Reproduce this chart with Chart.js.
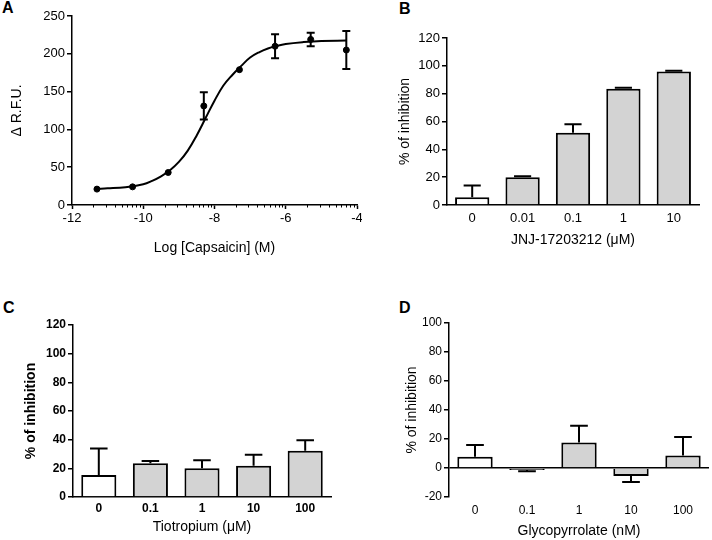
<!DOCTYPE html>
<html><head><meta charset="utf-8">
<script src="https://cdn.jsdelivr.net/npm/chart.js@4.4.0/dist/chart.umd.min.js"></script>
<style>
body{margin:0;background:#fff;width:712px;height:540px;position:relative;overflow:hidden;font-family:"Liberation Sans",Arial,sans-serif}
canvas{position:absolute}
.lbl{position:absolute;font:bold 16px "Liberation Sans",Arial,sans-serif;line-height:16px;color:#000}
</style></head><body>
<div class="lbl" style="left:2px;top:0px">A</div>
<div class="lbl" style="left:399px;top:1px">B</div>
<div class="lbl" style="left:3px;top:300px">C</div>
<div class="lbl" style="left:399px;top:300px">D</div>
<canvas id="cA" width="362" height="262" style="left:0;top:0"></canvas>
<canvas id="cB" width="352" height="252" style="left:360px;top:0"></canvas>
<canvas id="cC" width="345" height="275" style="left:0;top:265px"></canvas>
<canvas id="cD" width="352" height="275" style="left:360px;top:265px"></canvas>
<script>
// ---- Panel A data ----
const capsaicinLogM = [-11.3, -10.3, -9.3, -8.3, -7.3, -6.3, -5.3, -4.3];
const rfuMean = [21, 24, 43, 131, 179, 210, 219, 205];
const rfuSem = [0, 0, 0, 18, 0, 16, 9, 25];
const fitLogM = [-11.3, -11.0, -10.5, -10.0, -9.75, -9.5, -9.25, -9.0, -8.75, -8.5, -8.25, -8.0, -7.75, -7.5, -7.25, -7.0, -6.75, -6.5, -6.25, -6.0, -5.5, -5.0, -4.3];
const fitRfu  = [21.5, 22, 23.5, 27.5, 32, 38, 46, 57, 72, 92, 115, 138, 158, 172, 184, 195, 202, 207, 210.5, 213, 215.5, 217, 217.5];
const xTicksA = [-12, -10, -8, -6, -4];

// ---- Panel B data ----
const jnjDoses = ['0', '0.01', '0.1', '1', '10'];
const jnjInhibition = [5.5, 20, 52, 83.5, 96];
const jnjSem = [8.5, 0.6, 6, 0.8, 0.4];

// ---- Panel C data ----
const tioDoses = ['0', '0.1', '1', '10', '100'];
const tioInhibition = [15.4, 23.6, 20, 21.8, 32.2];
const tioSem = [18.5, 1.6, 5.6, 7.6, 7.4];

// ---- Panel D data ----
const glyDoses = ['0', '0.1', '1', '10', '100'];
const glyInhibition = [7.7, -1.3, 17.6, -5.5, 8.6];
const glySem = [8.1, 0.9, 11.5, 4.1, 12.7];

const FONT = '"Liberation Sans", Arial, sans-serif';
Chart.defaults.font.family = FONT;
Chart.defaults.color = '#000';
Chart.defaults.animation = false;
Chart.defaults.plugins.legend.display = false;
Chart.defaults.plugins.tooltip.enabled = false;

function fixAxis(size, isX) {
  return function (s) {
    if (isX) s.height = size; else s.width = size;
    s.paddingLeft = 0; s.paddingRight = 0; s.paddingTop = 0; s.paddingBottom = 0;
  };
}

const errorBars = {
  id: 'errorBars',
  afterDatasetsDraw(chart) {
    const ctx = chart.ctx;
    const ys = chart.scales.y;
    chart.data.datasets.forEach((ds, di) => {
      if (!ds.errors) return;
      const meta = chart.getDatasetMeta(di);
      meta.data.forEach((el, i) => {
        const err = ds.errors[i];
        if (!err) return;
        const raw = ds.data[i];
        const val = typeof raw === 'object' ? raw.y : raw;
        const x = el.x;
        const capW = ds.capWidth || (el.width / 2);
        ctx.save();
        ctx.strokeStyle = '#000';
        ctx.lineWidth = 2;
        const dirs = ds.bothWays ? [1, -1] : [val >= 0 ? 1 : -1];
        dirs.forEach(d => {
          const y0 = ys.getPixelForValue(val);
          const y1 = ys.getPixelForValue(val + d * err);
          ctx.beginPath();
          ctx.moveTo(x, y0); ctx.lineTo(x, y1);
          ctx.moveTo(x - capW / 2, y1); ctx.lineTo(x + capW / 2, y1);
          ctx.stroke();
        });
        ctx.restore();
      });
    });
  }
};

const minorTicks = {
  id: 'minorTicks',
  afterDraw(chart) {
    const xs = chart.scales.x;
    const y0 = chart.chartArea.bottom;
    const ctx = chart.ctx;
    ctx.save();
    ctx.strokeStyle = '#000';
    ctx.lineWidth = 1;
    for (let k = 0; k < xTicksA.length - 1; k++) {
      const s = xTicksA[k], e = xTicksA[k + 1];
      for (let m = 2; m <= 9; m++) {
        const px = Math.round(xs.getPixelForValue(s + (e - s) * Math.log10(m))) + 0.5;
        ctx.beginPath(); ctx.moveTo(px, y0); ctx.lineTo(px, y0 + 2.5); ctx.stroke();
      }
    }
    ctx.restore();
  }
};

function yAxis(o) {
  return {
    min: o.min, max: o.max,
    ticks: { stepSize: o.step, padding: 2, font: o.tickFont, color: '#000' },
    grid: {
      drawOnChartArea: !!o.zeroLine,
      color: o.zeroLine ? (c => (c.tick && c.tick.value === 0) ? '#000' : 'rgba(0,0,0,0)') : '#000',
      lineWidth: 1.5, tickColor: '#000', tickLength: 5, tickWidth: 1.5
    },
    border: { display: true, color: '#000', width: 1.5 },
    title: { display: true, text: o.title, font: o.titleFont, color: '#000', padding: { top: o.titlePad, bottom: 0 } },
    afterFit: fixAxis(o.width, false)
  };
}

function catAxis(o) {
  return {
    type: 'category', offset: true,
    grid: { display: false, drawTicks: false },
    border: { display: o.border, color: '#000', width: 1.5 },
    ticks: { padding: o.tickPad, font: o.tickFont, color: '#000', maxRotation: 0 },
    title: { display: true, text: o.title, font: o.titleFont, color: '#000', padding: { top: 0, bottom: o.titlePad } },
    afterFit: fixAxis(o.height, true)
  };
}

function barDataset(values, errs) {
  return {
    data: values,
    errors: errs,
    backgroundColor: values.map((v, i) => i === 0 ? '#ffffff' : '#d3d3d3'),
    borderColor: '#000', borderWidth: 2, borderSkipped: 'start',
    categoryPercentage: 1, barPercentage: 0.68
  };
}

// ---- Chart A ----
new Chart(document.getElementById('cA'), {
  type: 'scatter',
  data: {
    datasets: [
      {
        type: 'line',
        data: fitLogM.map((x, i) => ({ x, y: fitRfu[i] })),
        borderColor: '#000', borderWidth: 2, pointRadius: 0,
        tension: 0.4, fill: false
      },
      {
        data: capsaicinLogM.map((x, i) => ({ x, y: rfuMean[i] })),
        errors: rfuSem, bothWays: true, capWidth: 8,
        backgroundColor: '#000', borderColor: '#000', pointRadius: 3
      }
    ]
  },
  options: {
    responsive: false,
    layout: { padding: { left: 0, top: 16, right: 5, bottom: 0 } },
    scales: {
      x: {
        type: 'linear', min: -12, max: -4,
        afterBuildTicks: s => { s.ticks = xTicksA.map(v => ({ value: v })); },
        ticks: { padding: 2, font: { size: 13 }, color: '#000' },
        grid: { drawOnChartArea: false, color: '#000', tickColor: '#000', tickLength: 4, tickWidth: 1.5 },
        border: { display: true, color: '#000', width: 1.5 },
        title: { display: true, text: 'Log [Capsaicin] (M)', font: { size: 14 }, color: '#000', padding: { top: 0, bottom: 5 } },
        afterFit: fixAxis(57, true)
      },
      y: yAxis({ min: 0, max: 250, step: 50, tickFont: { size: 13 }, title: 'Δ R.F.U.', titleFont: { size: 14 }, titlePad: 9, width: 72 })
    }
  },
  plugins: [errorBars, minorTicks]
});

// ---- Chart B ----
new Chart(document.getElementById('cB'), {
  type: 'bar',
  data: { labels: jnjDoses, datasets: [barDataset(jnjInhibition, jnjSem)] },
  options: {
    responsive: false,
    layout: { padding: { left: 0, top: 38, right: 13, bottom: 0 } },
    scales: {
      x: catAxis({ border: true, tickPad: 6, tickFont: { size: 13 }, title: 'JNJ-17203212 (μM)', titleFont: { size: 14 }, titlePad: 3, height: 47 }),
      y: yAxis({ min: 0, max: 120, step: 20, tickFont: { size: 13 }, title: '% of inhibition', titleFont: { size: 14 }, titlePad: 37, width: 87 })
    }
  },
  plugins: [errorBars]
});

// ---- Chart C ----
new Chart(document.getElementById('cC'), {
  type: 'bar',
  data: { labels: tioDoses, datasets: [barDataset(tioInhibition, tioSem)] },
  options: {
    responsive: false,
    layout: { padding: { left: 0, top: 60, right: 14, bottom: 0 } },
    scales: {
      x: catAxis({ border: true, tickPad: 4, tickFont: { size: 12, weight: 'bold' }, title: 'Tiotropium (μM)', titleFont: { size: 14 }, titlePad: 4, height: 43 }),
      y: yAxis({ min: 0, max: 120, step: 20, tickFont: { size: 12, weight: 'bold' }, title: '% of inhibition', titleFont: { size: 14, weight: 'bold' }, titlePad: 23, width: 73 })
    }
  },
  plugins: [errorBars]
});

// ---- Chart D ----
new Chart(document.getElementById('cD'), {
  type: 'bar',
  data: { labels: glyDoses, datasets: [barDataset(glyInhibition, glySem)] },
  options: {
    responsive: false,
    layout: { padding: { left: 0, top: 58, right: 3, bottom: 0 } },
    scales: {
      x: catAxis({ border: false, tickPad: 6, tickFont: { size: 12 }, title: 'Glycopyrrolate (nM)', titleFont: { size: 14 }, titlePad: 0, height: 43 }),
      y: yAxis({ min: -20, max: 100, step: 20, tickFont: { size: 12 }, title: '% of inhibition', titleFont: { size: 14 }, titlePad: 44, width: 89, zeroLine: true })
    }
  },
  plugins: [errorBars]
});
</script>
</body></html>
